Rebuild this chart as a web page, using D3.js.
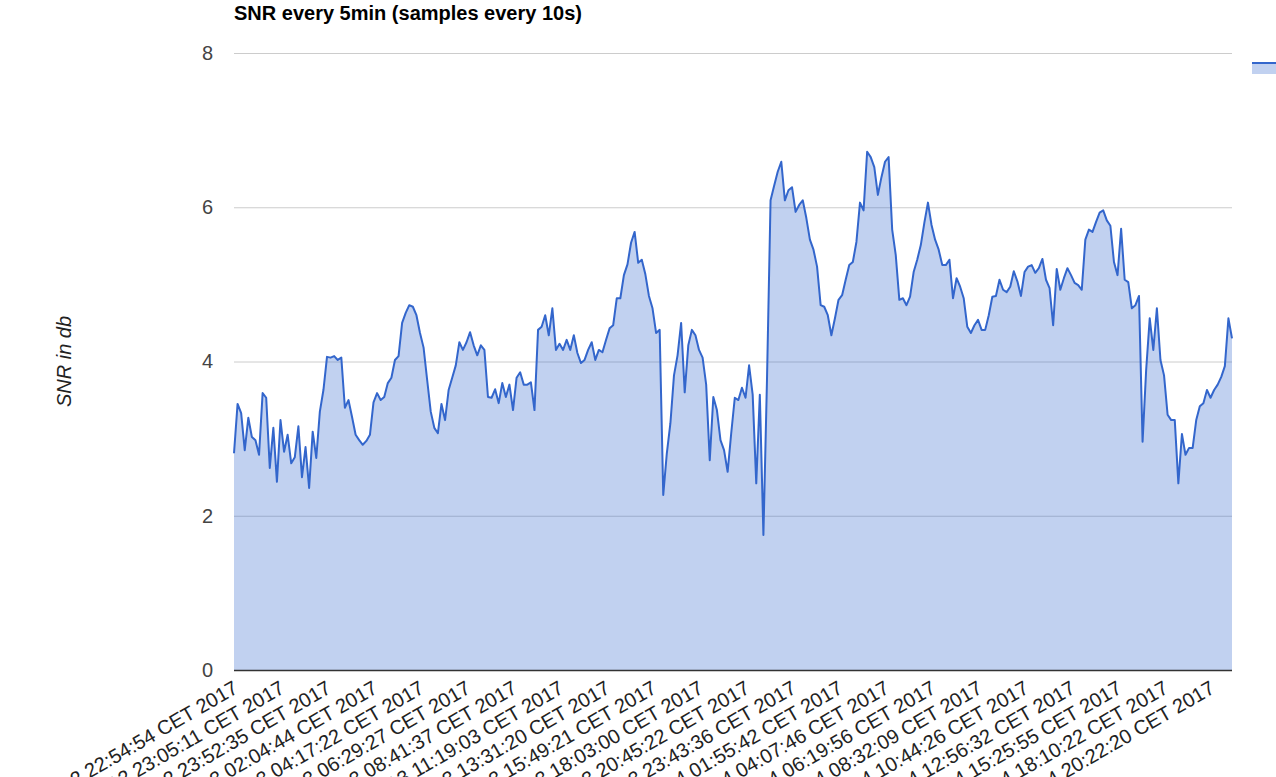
<!DOCTYPE html>
<html>
<head>
<meta charset="utf-8">
<script src="https://cdn.jsdelivr.net/npm/d3@7"></script>
<style>
    body { margin: 0; background: #fff; }
    svg { display: block; font-family: Arial, 'Liberation Sans', sans-serif; }
</style>
</head>
<body>
<div id="viz"></div>
<script>
const title = 'SNR every 5min (samples every 10s)';
const yTitle = 'SNR in db';
const seriesName = 'SNR';
const yTicks = [0, 2, 4, 6, 8];
const labelEvery = 13;

const tickLabels = [
    'Sun Feb 12 22:54:54 CET 2017', 'Sun Feb 12 23:05:11 CET 2017', 'Sun Feb 12 23:52:35 CET 2017',
    'Mon Feb 13 02:04:44 CET 2017', 'Mon Feb 13 04:17:22 CET 2017', 'Mon Feb 13 06:29:27 CET 2017',
    'Mon Feb 13 08:41:37 CET 2017', 'Mon Feb 13 11:19:03 CET 2017', 'Mon Feb 13 13:31:20 CET 2017',
    'Mon Feb 13 15:49:21 CET 2017', 'Mon Feb 13 18:03:00 CET 2017', 'Mon Feb 13 20:45:22 CET 2017',
    'Mon Feb 13 23:43:36 CET 2017', 'Tue Feb 14 01:55:42 CET 2017', 'Tue Feb 14 04:07:46 CET 2017',
    'Tue Feb 14 06:19:56 CET 2017', 'Tue Feb 14 08:32:09 CET 2017', 'Tue Feb 14 10:44:26 CET 2017',
    'Tue Feb 14 12:56:32 CET 2017', 'Tue Feb 14 15:25:55 CET 2017', 'Tue Feb 14 18:10:22 CET 2017',
    'Tue Feb 14 20:22:20 CET 2017'
];

const snr = [
    2.81, 3.45, 3.33, 2.85, 3.27, 3.02, 2.98, 2.79, 3.59, 3.53,
    2.62, 3.14, 2.44, 3.24, 2.83, 3.05, 2.68, 2.76, 3.16, 2.50,
    2.89, 2.36, 3.09, 2.75, 3.35, 3.63, 4.06, 4.05, 4.07, 4.02,
    4.05, 3.40, 3.50, 3.28, 3.05, 2.98, 2.92, 2.97, 3.05, 3.47,
    3.59, 3.50, 3.54, 3.72, 3.79, 4.02, 4.07, 4.50, 4.63, 4.73,
    4.71, 4.60, 4.37, 4.18, 3.76, 3.35, 3.14, 3.07, 3.45, 3.24,
    3.63, 3.79, 3.95, 4.25, 4.15, 4.25, 4.38, 4.21, 4.08, 4.21,
    4.15, 3.54, 3.53, 3.64, 3.46, 3.72, 3.54, 3.70, 3.37, 3.79,
    3.86, 3.70, 3.70, 3.73, 3.37, 4.41, 4.45, 4.60, 4.34, 4.69,
    4.15, 4.23, 4.15, 4.28, 4.15, 4.34, 4.11, 3.98, 4.02, 4.15,
    4.25, 4.02, 4.15, 4.12, 4.28, 4.43, 4.47, 4.82, 4.82, 5.12,
    5.26, 5.54, 5.68, 5.28, 5.32, 5.13, 4.85, 4.69, 4.37, 4.41,
    2.27, 2.81, 3.20, 3.82, 4.08, 4.50, 3.60, 4.21, 4.41, 4.34,
    4.15, 4.05, 3.70, 2.72, 3.54, 3.37, 2.98, 2.85, 2.57, 3.07,
    3.53, 3.50, 3.66, 3.53, 3.95, 3.57, 2.42, 3.57, 1.75, 3.76,
    6.09, 6.28, 6.46, 6.59, 6.09, 6.22, 6.26, 5.94, 6.03, 6.09,
    5.86, 5.58, 5.45, 5.23, 4.73, 4.71, 4.60, 4.34, 4.56, 4.80,
    4.86, 5.06, 5.25, 5.29, 5.55, 6.06, 5.96, 6.72, 6.65, 6.52,
    6.16, 6.39, 6.59, 6.65, 5.71, 5.38, 4.80, 4.82, 4.73, 4.84,
    5.16, 5.32, 5.51, 5.80, 6.06, 5.77, 5.58, 5.45, 5.25, 5.25,
    5.32, 4.82, 5.08, 4.97, 4.82, 4.45, 4.37, 4.47, 4.54, 4.41,
    4.41, 4.60, 4.84, 4.85, 5.06, 4.93, 4.90, 4.97, 5.17, 5.04,
    4.85, 5.16, 5.23, 5.25, 5.15, 5.21, 5.33, 5.06, 4.95, 4.47,
    5.20, 4.93, 5.08, 5.21, 5.12, 5.02, 4.99, 4.93, 5.58, 5.71,
    5.68, 5.81, 5.93, 5.96, 5.83, 5.76, 5.29, 5.12, 5.72, 5.06,
    5.03, 4.69, 4.73, 4.85, 2.96, 3.89, 4.56, 4.15, 4.69, 4.02,
    3.82, 3.31, 3.24, 3.24, 2.42, 3.06, 2.79, 2.88, 2.88, 3.24,
    3.42, 3.46, 3.63, 3.53, 3.63, 3.70, 3.80, 3.94, 4.56, 4.30
];

let margin = { top: 53, right: 44, bottom: 107, left: 234 };
let width = 1276 - margin.left - margin.right,
    height = 777 - margin.top - margin.bottom;

let xScale = d3.scalePoint()
    .domain(d3.range(snr.length))
    .range([0, width]);

let yScale = d3.scaleLinear()
    .domain([0, 8])
    .range([height, 0]);

let svg = d3.select('#viz')
    .append('svg')
    .attr('width', 1276)
    .attr('height', 777);

svg.append('text')
    .attr('x', margin.left)
    .attr('y', 20)
    .style('font-size', '20px')
    .style('font-weight', 'bold')
    .attr('fill', '#000')
    .text(title);

let chart = svg.append('g')
    .attr('transform', 'translate(' + margin.left + ',' + margin.top + ')');

// gridlines + y labels
let yGuide = chart.append('g')
    .call(d3.axisLeft(yScale)
        .tickValues(yTicks)
        .tickSize(-width)
        .tickPadding(21)
        .tickFormat(d3.format('d')));
yGuide.select('.domain').remove();
yGuide.selectAll('line')
    .attr('stroke', '#ccc');
yGuide.selectAll('text')
    .attr('fill', '#444')
    .style('font-size', '20px');

let area = d3.area()
    .x((d, i) => xScale(i))
    .y0(yScale(0))
    .y1((d) => yScale(d));

let line = d3.line()
    .x((d, i) => xScale(i))
    .y((d) => yScale(d));

chart.append('path')
    .datum(snr)
    .attr('d', area)
    .attr('fill', '#3366cc')
    .attr('fill-opacity', 0.3);

chart.append('path')
    .datum(snr)
    .attr('d', line)
    .attr('fill', 'none')
    .attr('stroke', '#3366cc')
    .attr('stroke-width', 2)
    .attr('stroke-linejoin', 'round');

chart.append('line')
    .attr('x1', 0)
    .attr('x2', width)
    .attr('y1', yScale(0) + 0.5)
    .attr('y2', yScale(0) + 0.5)
    .attr('stroke', '#333')
    .attr('stroke-width', 1.5);

let xGuide = chart.append('g')
    .attr('transform', 'translate(0,' + height + ')')
    .call(d3.axisBottom(xScale)
        .tickValues(tickLabels.map((d, i) => i * labelEvery))
        .tickSize(0)
        .tickFormat((d) => tickLabels[d / labelEvery]));
xGuide.select('.domain').remove();
xGuide.selectAll('text')
    .attr('x', 0)
    .attr('y', 0)
    .attr('dy', 0)
    .attr('text-anchor', 'end')
    .attr('transform', 'translate(5,22) rotate(-30)')
    .attr('fill', '#222')
    .style('font-size', '20px');

svg.append('text')
    .attr('transform', 'translate(71,' + (margin.top + height / 2) + ') rotate(-90)')
    .attr('text-anchor', 'middle')
    .style('font-size', '20px')
    .style('font-style', 'italic')
    .attr('fill', '#222')
    .text(yTitle);

// legend, mostly off the right edge
let legend = svg.append('g')
    .attr('transform', 'translate(1252,62)');
legend.append('rect')
    .attr('width', 28)
    .attr('height', 12)
    .attr('fill', '#3366cc')
    .attr('fill-opacity', 0.3);
legend.append('line')
    .attr('x1', 0)
    .attr('x2', 28)
    .attr('y1', 1)
    .attr('y2', 1)
    .attr('stroke', '#3366cc')
    .attr('stroke-width', 2);
legend.append('text')
    .attr('x', 34)
    .attr('y', 13)
    .style('font-size', '20px')
    .attr('fill', '#222')
    .text(seriesName);
</script>
</body>
</html>
